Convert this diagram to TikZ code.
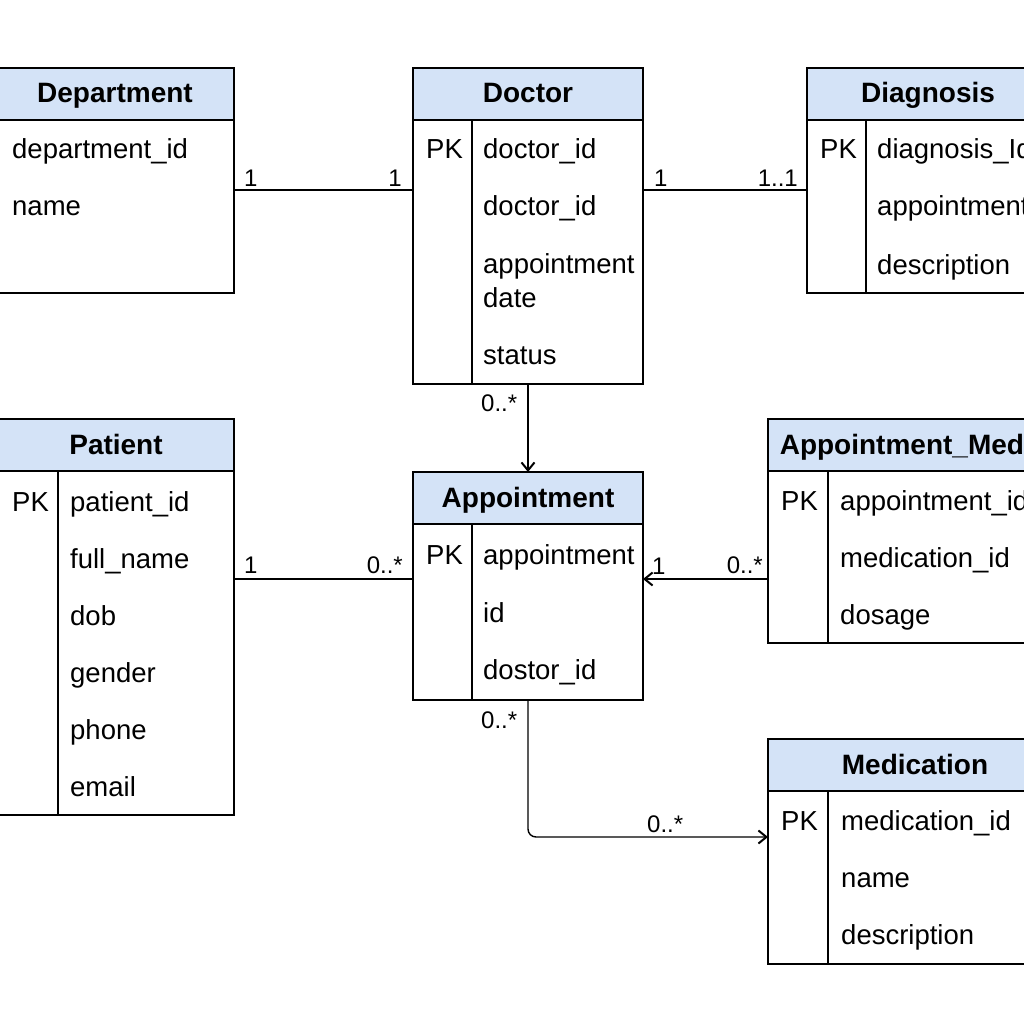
\documentclass[tikz,border=0pt]{standalone}
\usepackage{fontspec}
\setmainfont{Liberation Sans}
\usetikzlibrary{arrows.meta}
\definecolor{hdrblue}{RGB}{212,227,247}
\begin{document}
\begin{tikzpicture}[x=1pt,y=-1pt,
  tbl/.style={draw, line width=1.4pt, anchor=north west, inner sep=0pt, outer sep=0pt, fill=white},
  hdr/.style={draw, line width=1.4pt, anchor=north west, inner sep=0pt, outer sep=0pt, fill=hdrblue,
    minimum height=52pt, font=\fontsize{28}{32}\selectfont\bfseries, text height=20pt, text depth=2pt},
  fld/.style={anchor=base west, inner sep=0pt, font=\fontsize{27.5}{32}\selectfont},
  lbl/.style={anchor=base west, inner sep=0pt, font=\fontsize{24}{28}\selectfont},
  lble/.style={lbl, anchor=base east},
  divider/.style={line width=1.4pt},
  conn/.style={line width=1.4pt},
  arr/.style={conn, -{Straight Barb[length=8pt,width=13pt,line width=2pt]}}
]
\useasboundingbox (0,0) rectangle (1024,1024);
\clip (0,0) rectangle (1024,1024);
\fill[white] (0,0) rectangle (1024,1024);

% Department
\node[tbl, minimum width=238pt, minimum height=225pt] (dept) at (-4,68) {};
\node[hdr, minimum width=238pt] (deptH) at (-4,68) {Department};
\node[fld] (dept1) at (12,159) {department\_id};
\node[fld] (dept2) at (12,216) {name};

% Doctor
\node[tbl, minimum width=230pt, minimum height=316pt] (doc) at (413,68) {};
\node[hdr, minimum width=230pt] (docH) at (413,68) {Doctor};
\draw[divider] (472,120) -- (472,384);
\node[fld] (docPK) at (426,159) {PK};
\node[fld] (doc1) at (483,159) {doctor\_id};
\node[fld] (doc2) at (483,216) {doctor\_id};
\node[fld] (doc3) at (483,273) {appointment};
\node[fld] (doc3b) at (483,307) {date};
\node[fld] (doc4) at (483,364) {status};

% Diagnosis
\node[tbl, minimum width=242pt, minimum height=225pt] (diag) at (807,68) {};
\node[hdr, minimum width=242pt] (diagH) at (807,68) {Diagnosis};
\draw[divider] (866,120) -- (866,293);
\node[fld] (diagPK) at (820,159) {PK};
\node[fld] (diag1) at (877,159) {diagnosis\_Id};
\node[fld] (diag2) at (877,216) {appointment\_id};
\node[fld] (diag3) at (877,274) {description};

% Patient
\node[tbl, minimum width=236pt, minimum height=396pt] (pat) at (-2,419) {};
\node[hdr, minimum width=236pt] (patH) at (-2,419) {Patient};
\draw[divider] (58,471) -- (58,815);
\node[fld] (patPK) at (12,511) {PK};
\node[fld] (pat1) at (70,511) {patient\_id};
\node[fld] (pat2) at (70,568) {full\_name};
\node[fld] (pat3) at (70,625) {dob};
\node[fld] (pat4) at (70,682) {gender};
\node[fld] (pat5) at (70,739) {phone};
\node[fld] (pat6) at (70,796) {email};

% Appointment
\node[tbl, minimum width=230pt, minimum height=228pt] (app) at (413,472) {};
\node[hdr, minimum width=230pt] (appH) at (413,472) {Appointment};
\draw[divider] (472,524) -- (472,700);
\node[fld] (appPK) at (426,564) {PK};
\node[fld] (app1) at (483,564) {appointment};
\node[fld] (app2) at (483,622) {id};
\node[fld] (app3) at (483,679) {dostor\_id};

% Appointment_Medication
\node[tbl, minimum width=358pt, minimum height=224pt] (appmed) at (768,419) {};
\node[hdr, minimum width=358pt] (appmedH) at (768,419) {Appointment\_Medication};
\draw[divider] (828,471) -- (828,643);
\node[fld] (appmedPK) at (781,510) {PK};
\node[fld] (appmed1) at (840,510) {appointment\_id};
\node[fld] (appmed2) at (840,567) {medication\_id};
\node[fld] (appmed3) at (840,624) {dosage};

% Medication
\node[tbl, minimum width=294pt, minimum height=225pt] (med) at (768,739) {};
\node[hdr, minimum width=294pt] (medH) at (768,739) {Medication};
\draw[divider] (828,791) -- (828,964);
\node[fld] (medPK) at (781,830) {PK};
\node[fld] (med1) at (841,830) {medication\_id};
\node[fld] (med2) at (841,887) {name};
\node[fld] (med3) at (841,944) {description};

% connectors
\coordinate (yA) at (0,190);
\coordinate (yB) at (0,579);
\coordinate (yD) at (0,837);
\coordinate (xC) at (528,0);

\draw[conn] (dept.east |- yA) -- (doc.west |- yA);
\node[lbl] (c1a) at (244,187) {1};
\node[lble] (c1b) at (402,187) {1};

\draw[conn] (doc.east |- yA) -- (diag.west |- yA);
\node[lbl] (c2a) at (654,187) {1};
\node[lble] (c2b) at (798,187) {1..1};

\draw[arr] (doc.south -| xC) -- (app.north -| xC);
\node[lbl] (c3a) at (481,411) {0..*};

\draw[conn] (pat.east |- yB) -- (app.west |- yB);
\node[lbl] (c4a) at (244,573) {1};
\node[lble] (c4b) at (403,573) {0..*};

\draw[arr] (appmed.west |- yB) -- (app.east |- yB);
\node[lbl] (c5a) at (652,574) {1};
\node[lble] (c5b) at (763,573) {0..*};

\draw[arr, rounded corners=8pt] (app.south -| xC) -- (xC |- yD) -- (med.west |- yD);
\node[lbl] (c6a) at (481,728) {0..*};
\node[lbl] (c6b) at (647,832) {0..*};
\end{tikzpicture}
\end{document}
